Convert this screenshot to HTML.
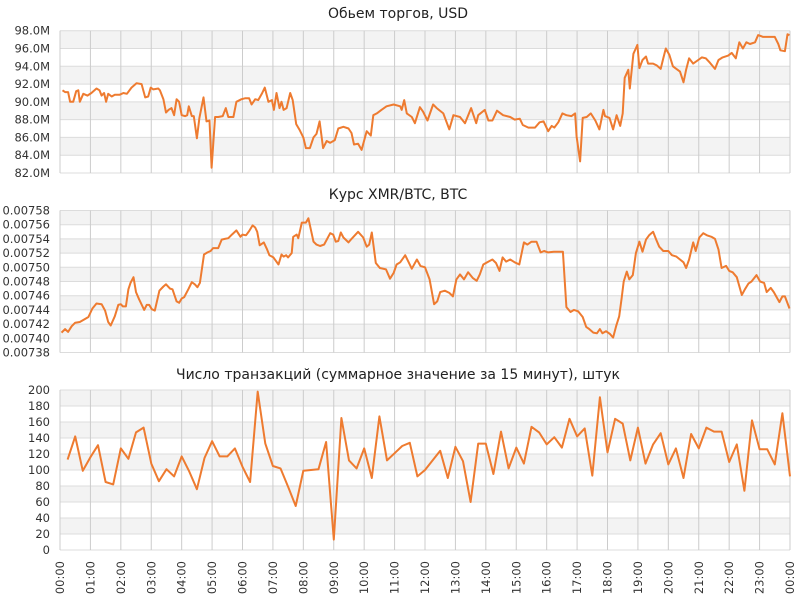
<!DOCTYPE html>
<html><head><meta charset="utf-8">
<style>
html,body{margin:0;padding:0;background:#fff;}
svg{display:block;font-family:"DejaVu Sans","Liberation Sans",sans-serif;}
</style></head>
<body>
<svg id="chart" width="800" height="600" xmlns="http://www.w3.org/2000/svg"></svg>
<script>
const hourLabels = ["00:00","01:00","02:00","03:00","04:00","05:00","06:00","07:00","08:00","09:00","10:00","11:00","12:00","13:00","14:00","15:00","16:00","17:00","18:00","19:00","20:00","21:00","22:00","23:00","00:00"];

const volTitle = "Обьем торгов, USD";
const volTicks = [82,84,86,88,90,92,94,96,98];
const volTimes = [5,10,16,20,26,32,36,39,46,54,62,72,78,82,87,91,95,102,108,118,125,132,141,151,161,168,174,179,184,194,197,204,209,214,220,225,230,235,240,247,251,254,260,264,270,275,283,289,295,299,306,312,321,327,332,342,348,358,365,373,378,385,391,398,404,411,418,422,427,433,437,441,447,454,459,466,473,480,485,493,500,506,512,519,526,533,542,549,559,569,575,580,588,595,605,613,618,625,634,644,658,671,674,679,684,694,700,710,716,725,736,743,756,768,776,789,799,811,821,825,838,845,853,862,874,888,897,907,913,924,937,946,954,963,970,975,983,991,999,1009,1016,1019,1026,1031,1039,1047,1056,1064,1072,1075,1084,1091,1098,1105,1110,1114,1121,1124,1131,1139,1143,1149,1156,1160,1170,1177,1185,1190,1195,1202,1209,1216,1223,1230,1235,1241,1249,1259,1266,1274,1282,1292,1299,1307,1318,1325,1333,1340,1347,1354,1361,1371,1377,1387,1394,1400,1410,1417,1421,1430,1435,1439];
const volValues = [91.3,91.1,91.1,90.0,90.0,91.2,91.3,90.0,90.9,90.7,91.0,91.5,91.3,90.7,91.0,90.0,90.9,90.6,90.8,90.8,91.0,90.9,91.6,92.1,92.0,90.5,90.6,91.6,91.4,91.5,91.3,90.3,88.8,89.1,89.3,88.5,90.3,90.0,88.5,88.4,88.5,89.5,88.4,88.4,85.9,88.2,90.5,87.8,87.9,82.6,88.3,88.3,88.4,89.3,88.3,88.3,90.0,90.3,90.4,90.4,89.7,90.3,90.2,90.9,91.6,90.0,90.2,89.1,91.0,89.3,90.0,89.1,89.3,91.0,90.2,87.5,86.8,86.0,84.8,84.8,86.0,86.4,87.8,84.8,85.6,85.4,85.7,87.0,87.2,87.0,86.5,85.2,85.3,84.6,86.7,86.2,88.5,88.7,89.1,89.5,89.7,89.5,89.1,90.2,88.7,88.3,87.6,89.4,88.9,87.9,89.7,89.3,88.7,86.9,88.5,88.3,87.6,89.3,87.6,88.5,89.1,87.9,87.9,89.0,88.5,88.3,88.0,88.1,87.4,87.1,87.1,87.7,87.8,86.7,87.3,87.1,87.7,88.7,88.5,88.4,88.7,86.1,83.3,88.2,88.3,88.7,87.9,86.9,89.1,88.4,88.2,86.9,88.5,87.3,88.7,92.7,93.6,91.5,95.4,96.4,93.8,94.7,95.1,94.3,94.3,94.1,93.7,94.9,96.0,95.3,94.0,93.7,93.4,92.2,93.6,94.9,94.3,94.7,95.0,94.9,94.4,93.7,94.7,95.0,95.2,95.5,94.9,96.7,96.0,96.7,96.5,96.7,97.5,97.3,97.3,97.3,97.3,96.5,95.8,95.7,97.6,97.5];

const rateTitle = "Курс XMR/BTC, BTC";
const rateTicks = [738,740,742,744,746,748,750,752,754,756,758]; // ×1e-5
const rateTimes = [3,10,16,23,30,39,49,56,64,72,82,89,95,100,108,115,120,124,130,135,139,145,150,156,166,171,176,181,187,196,204,209,217,222,230,235,240,245,253,260,266,271,276,284,291,297,302,312,319,325,332,339,348,356,360,367,373,380,385,389,394,402,408,413,421,431,437,441,446,450,457,460,467,470,477,485,490,500,506,513,521,533,539,544,549,554,559,569,575,588,598,605,610,615,623,631,643,651,658,664,671,681,694,704,711,720,729,738,744,750,759,768,775,782,789,797,805,814,822,828,835,845,853,860,867,873,880,888,897,906,915,922,930,940,948,955,963,974,992,999,1007,1014,1022,1031,1038,1044,1052,1059,1065,1070,1077,1085,1091,1097,1103,1108,1112,1118,1123,1130,1136,1143,1149,1156,1162,1170,1176,1182,1190,1200,1207,1216,1223,1230,1235,1241,1249,1254,1261,1269,1276,1285,1292,1299,1305,1314,1320,1327,1335,1345,1351,1358,1364,1374,1381,1389,1394,1402,1408,1419,1425,1430,1439];
const rateValues = [740.8,741.3,740.9,741.7,742.2,742.3,742.7,743.0,744.2,744.9,744.8,743.9,742.3,741.8,743.1,744.7,744.8,744.5,744.5,746.9,747.8,748.6,746.5,745.5,744.0,744.7,744.7,744.1,743.9,746.7,747.3,747.6,747.0,746.9,745.2,745.0,745.6,745.8,746.9,747.9,747.6,747.2,747.8,751.8,752.1,752.3,752.7,752.7,753.9,754.0,754.1,754.6,755.2,754.3,754.6,754.5,755.1,755.9,755.6,755.0,753.1,753.5,752.6,751.7,751.4,750.4,751.8,751.5,751.7,751.4,752.0,754.3,754.6,754.1,756.3,756.3,756.9,753.6,753.2,753.0,753.2,754.8,754.6,753.6,753.7,754.9,754.2,753.5,754.0,755.0,754.2,752.9,753.2,754.9,750.6,749.9,749.7,748.4,749.2,750.4,750.7,751.7,749.8,751.1,750.2,750.0,748.3,744.8,745.2,746.5,746.7,746.4,745.9,748.3,749.0,748.3,749.3,748.5,748.1,749.0,750.4,750.8,751.1,750.6,749.5,751.4,750.8,751.1,750.7,750.4,753.5,753.2,753.6,753.6,752.1,752.3,752.1,752.2,752.2,744.4,743.7,744.0,743.8,743.0,741.6,741.3,740.8,740.7,741.3,740.7,741.0,740.6,740.1,741.7,743.1,745.7,748.0,749.4,748.3,748.9,752.0,753.6,752.2,753.9,754.5,755.0,753.9,752.9,752.3,752.3,751.7,751.5,751.1,750.7,749.9,751.1,753.5,752.3,754.2,754.8,754.5,754.3,754.0,752.5,749.9,750.2,749.5,749.3,748.6,746.1,746.9,747.7,748.0,748.9,748.0,747.8,746.5,747.1,746.5,745.1,745.9,745.9,744.2];

const txTitle = "Число транзакций (суммарное значение за 15 минут), штук";
const txTicks = [0,20,40,60,80,100,120,140,160,180,200];
const txValues = [113,142,99,116,131,85,82,127,114,147,153,108,86,101,92,117,98,76,115,136,117,117,127,104,85,198,133,105,102,79,55,99,100,101,135,13,165,112,102,127,90,167,112,121,130,134,92,100,112,124,90,129,111,60,133,133,95,148,102,128,108,154,147,132,141,128,164,142,152,93,191,122,164,158,112,153,108,132,146,107,127,90,145,127,153,148,148,110,132,74,162,126,126,107,171,92];

const NS = "http://www.w3.org/2000/svg";
const svg = document.getElementById("chart");
const X0 = 60, X1 = 790;
const xScale = m => X0 + (X1 - X0) * m / 1440;
const LINE = "#ee7b30";

function mk(tag, attrs, parent) {
  const e = document.createElementNS(NS, tag);
  for (const k in attrs) e.setAttribute(k, attrs[k]);
  (parent || svg).appendChild(e);
  return e;
}

function panel(key, title, titleY, top, bottom, ticks, fmt, times, values) {
  const g = mk("g", {});
  
  
  const lo = ticks[0], hi = ticks[ticks.length - 1];
  const yScale = v => bottom - (bottom - top) * (v - lo) / (hi - lo);
  for (let i = 0; i < ticks.length - 1; i++) {
    const idxFromTop = ticks.length - 2 - i;
    if (idxFromTop % 2 === 0) {
      const band = mk("rect", {x: X0, y: yScale(ticks[i+1]), width: X1 - X0, height: yScale(ticks[i]) - yScale(ticks[i+1]), fill: "#f3f3f3"}, g);
      
      
    }
  }
  ticks.forEach(t => {
    const y = yScale(t);
    const ln = mk("line", {x1: X0, x2: X1, y1: y, y2: y, stroke: "#dcdcdc", "stroke-width": 1}, g);
    
    
    const tx = mk("text", {x: 50, y: y + 4, "text-anchor": "end", "font-size": 11.5, fill: "#333"}, g);
    
    
    tx.textContent = fmt(t);
  });
  for (let h = 0; h <= 24; h++) {
    const x = xScale(h * 60);
    const vl = mk("line", {x1: x, x2: x, y1: top, y2: bottom, stroke: "#cccccc", "stroke-width": 1}, g);
    
    
  }
  const tt = mk("text", {x: 398, y: titleY, "text-anchor": "middle", "font-size": 14, fill: "#222"}, g);
  
  
  tt.textContent = title;
  const n = Math.min(times.length, values.length);
  let d = "";
  for (let i = 0; i < n; i++) d += (i ? "L" : "M") + xScale(times[i]).toFixed(1) + "," + yScale(values[i]).toFixed(1);
  const p = mk("path", {d: d, fill: "none", stroke: LINE, "stroke-width": 2, "stroke-linejoin": "round"}, g);
  
  
}

panel("volume", volTitle, 18, 30.7, 173, volTicks, t => t.toFixed(1) + "M", volTimes, volValues);
panel("rate", rateTitle, 199, 210.5, 352.5, rateTicks, t => (t / 1e5).toFixed(5), rateTimes, rateValues);
const txTimes = txValues.map((v, i) => (i + 1) * 15);
panel("transactions", txTitle, 379, 390, 550, txTicks, t => String(t), txTimes, txValues);

hourLabels.forEach((lab, h) => {
  const x = xScale(h * 60);
  const t = mk("text", {x: 0, y: 0, "text-anchor": "end", "font-size": 11.5, fill: "#333", transform: "translate(" + (x + 4) + ",561) rotate(-90)"});
  
  
  t.textContent = lab;
});
</script>
</body></html>
